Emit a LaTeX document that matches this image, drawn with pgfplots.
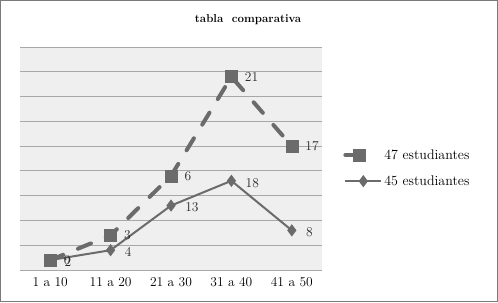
\documentclass[border=0pt]{standalone}
\usepackage{pgfplots}
\pgfplotsset{compat=1.18}
\definecolor{ln}{HTML}{6B6B6B}
\definecolor{bg}{HTML}{EFEFEF}
\definecolor{gr}{HTML}{A8A8A8}
\definecolor{fr}{HTML}{7A7A7A}
\pgfplotsset{
 legA/.style={legend image code/.code={\draw[mark repeat=2,mark phase=2,##1] plot coordinates {(0pt,0pt) (18pt,0pt) (36pt,0pt)};}},
 legB/.style={legend image code/.code={\draw[mark repeat=2,mark phase=2,##1] plot coordinates {(0pt,0pt) (14pt,0pt) (28pt,0pt)};}},
}
\begin{document}
\begin{tikzpicture}
\begin{axis}[
 scale only axis, width=302pt, height=223pt,
 xmin=-0.5, xmax=4.5, ymin=0, ymax=45,
 stack plots=y,
 xtick={0,...,4}, xticklabels={1 a 10, 11 a 20, 21 a 30, 31 a 40, 41 a 50},
 ytick={0,5,...,45}, yticklabels={},
 ymajorgrids, major grid style={gr, line width=0.9pt},
 major tick length=0pt,
 axis line style={draw=none},
 axis background/.style={fill=bg},
 tick label style={font=\fontsize{13.5}{15}\selectfont},
 xticklabel style={yshift=-4pt},
 clip=false,
 legend style={at={(rel axis cs:1.06,0.56)}, anchor=north west, draw=none, fill=none,
   font=\fontsize{14}{16}\selectfont, row sep=11pt},
 legend cell align=left,
 reverse legend,
 point meta=explicit symbolic,
 nodes near coords,
 nodes near coords style={anchor=west, xshift=10pt, font=\fontsize{13.5}{15}\selectfont, text=black!85},
]
\addplot[ln, line width=2pt, mark=diamond*, mark size=4.5pt,
  nodes near coords style={yshift=-2pt}, legA]
 coordinates {(0,2) [2] (1,4) [4] (2,13) [13] (3,18) [18] (4,8) [8]};
\addlegendentry{45 estudiantes}
\addplot[ln, line width=4pt, line cap=round, dash pattern=on 14pt off 16pt,
  mark=square*, mark size=6pt, mark options={solid, line width=0.5pt}, legB]
 coordinates {(0,0) [0] (1,3) [3] (2,6) [6] (3,21) [21] (4,17) [17]};
\addlegendentry{47 estudiantes}
\draw[fr, line width=1pt] (rel axis cs:-0.06457,-0.14126) rectangle (rel axis cs:1.5811,1.20852);
\node[font=\bfseries\fontsize{11.5}{13}\selectfont] at (rel axis cs:0.755,1.121) {tabla\ \ comparativa};
\end{axis}
\end{tikzpicture}
\end{document}
